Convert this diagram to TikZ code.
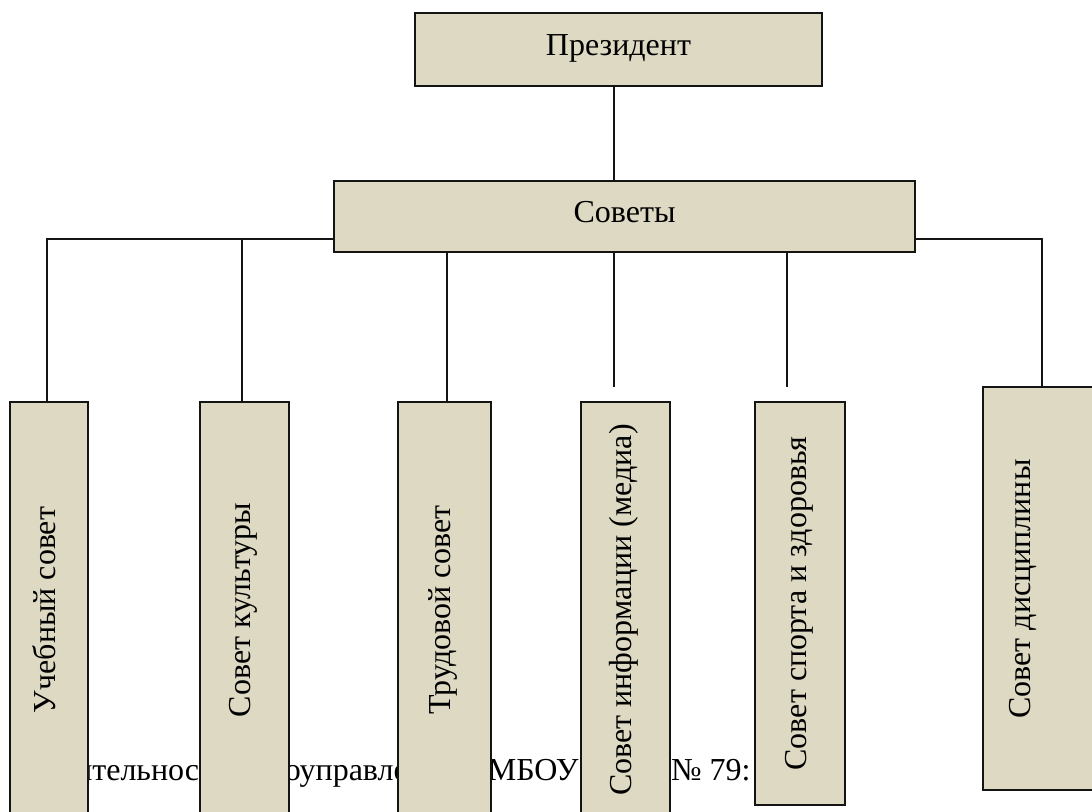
\documentclass[tikz,border=0pt]{standalone}
\usepackage{fontspec}
\setmainfont{Liberation Serif}
\usepackage{xcolor}
\definecolor{sovettan}{RGB}{221,217,195}
\definecolor{sovetline}{RGB}{20,20,20}

\begin{document}
\begin{tikzpicture}[x=0.5pt, y=-0.5pt,
    hbox/.style={draw=sovetline, line width=1pt, fill=sovettan, inner sep=0pt,
        text height=10pt, text depth=4pt, font=\fontsize{16}{19}\selectfont},
    vbox/.style={hbox, rotate=90},
    vlabel/.style={rotate=90, inner sep=0pt, text height=10pt, text depth=4pt,
        font=\fontsize{16}{19}\selectfont},
    link/.style={sovetline, line width=0.75pt}]
    \useasboundingbox (0,0) rectangle (1092,812);
    \clip (0,0) rectangle (1092,812);

    % Text line behind the boxes
    \node[font=\fontsize{16}{19}\selectfont, anchor=base east, inner sep=0pt] (caption)
        at (751,780) {Деятельность самоуправления в МБОУ СОШ №~79:};

    % Top levels
    \node[hbox, minimum width=203.5pt, minimum height=36.5pt] (pres) at (618.5,49.5) {Президент};
    \node[hbox, minimum width=290.5pt, minimum height=35.5pt] (sov) at (624.5,216.5) {Советы};

    % Councils
    \node[vbox, minimum width=208pt, minimum height=39pt] (b1) at (49,610) {Учебный совет};
    \node[vbox, minimum width=208pt, minimum height=44.5pt] (b2) at (244.5,610) {Совет культуры};
    \node[vbox, minimum width=208pt, minimum height=46.5pt] (b3) at (444,610) {Трудовой совет};
    \node[vbox, minimum width=208pt, minimum height=44.5pt] (b4) at (625.5,610) {Совет информации (медиа)};
    \node[vbox, minimum width=201.5pt, minimum height=45pt] (b5) at (800,603.5) {Совет спорта и здоровья};
    \node[vbox, minimum width=201.5pt, minimum height=59pt] (b6) at (1042,588.5) {};
    \node[vlabel] (t6) at (1024,589) {Совет дисциплины};

    % Connectors
    \coordinate (jl) at ([yshift=7pt]sov.south west);
    \coordinate (jr) at ([yshift=7pt]sov.south east);
    \coordinate (c1) at ([xshift=-1pt]b1.east);
    \coordinate (c2) at ([xshift=-1.25pt]b2.east);
    \coordinate (c3) at ([xshift=1.5pt]b3.east);
    \coordinate (e4) at (614,387);
    \coordinate (e5) at (787,387);
    \draw[link] (pres.south -| e4) -- (sov.north -| e4);
    \draw[link] (jl) -| (c1);
    \draw[link] (c2) |- (jl);
    \draw[link] (c3) -- (c3 |- sov.south);
    \draw[link] (e4 |- sov.south) -- (e4);
    \draw[link] (e5 |- sov.south) -- (e5);
    \draw[link] (jr) -| (b6.east);
\end{tikzpicture}
\end{document}
